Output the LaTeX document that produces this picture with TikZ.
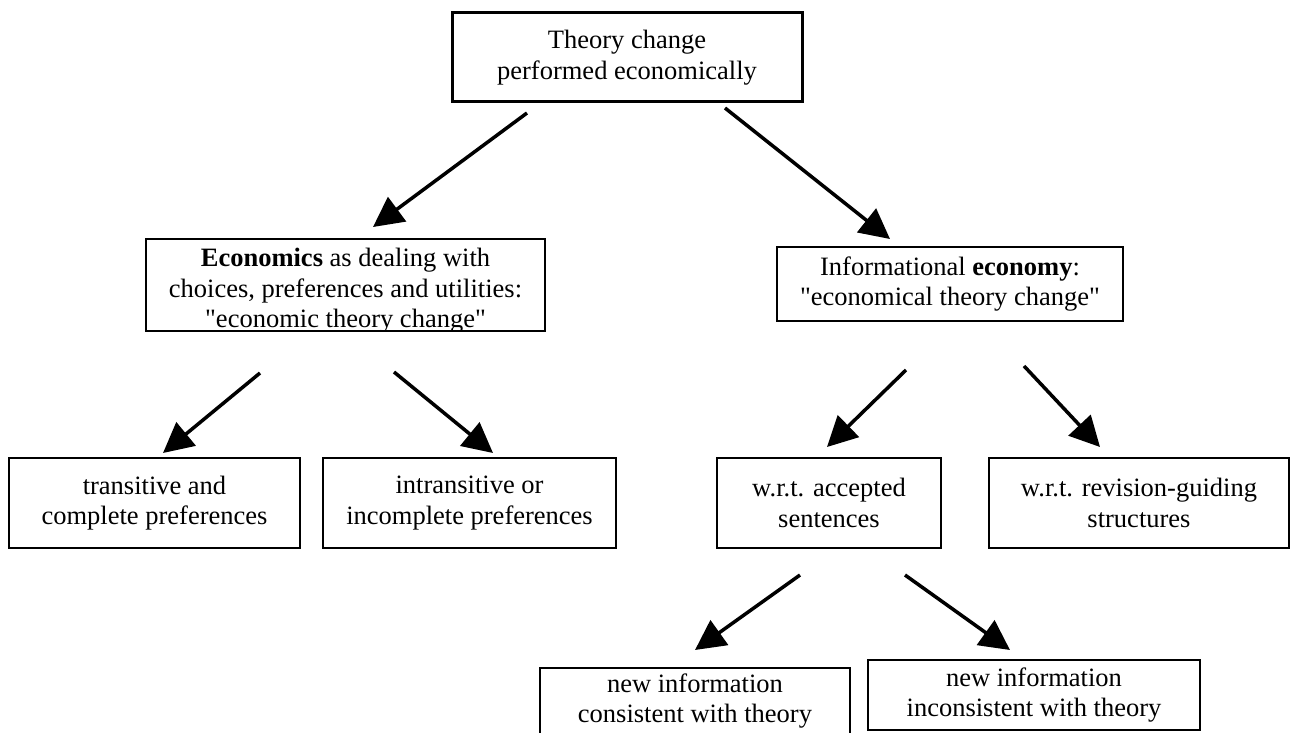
\documentclass[tikz,border=0pt]{standalone}
\usepackage{fontspec}
\setmainfont{Liberation Serif}[Ligatures=TeXOff]
\usetikzlibrary{arrows.meta}
\begin{document}
\begin{tikzpicture}[x=0.5pt,y=-0.5pt,
  frame/.style={draw=black, line width=0.75pt, inner sep=0pt, align=center,
    font=\fontsize{13.25pt}{15.25pt}\selectfont},
  txt/.style={inner sep=0pt, align=center, font=\fontsize{13.25pt}{15.25pt}\selectfont},
  arr/.style={line width=1.75pt, -{Triangle[length=15pt,width=15pt]}},
]
\useasboundingbox (0,0) rectangle (1296,733);
\clip (0,0) rectangle (1296,733);
\fill[white] (0,0) rectangle (1296,733);

% boxes
\node[frame, line width=1.5pt, minimum width=175pt, minimum height=44.5pt] (top) at (627,57.5)
  {Theory change\\performed economically};

\node[frame, minimum width=199.5pt, minimum height=46pt] (econ) at (345.5,285) {};
\begin{scope}
  \clip (146,239) rectangle (545,331);
  \node[txt, anchor=north] (econtext) at (345.5,248)
    {\textbf{Economics} as dealing with\\choices, preferences and utilities:\\"economic theory change"};
\end{scope}

\node[frame, minimum width=173pt, minimum height=37pt] (info) at (950,284)
  {Informational \textbf{economy}:\\"economical theory change"};

\node[frame, minimum width=145.5pt, minimum height=45pt] (trans) at (154.5,503)
  {transitive and\\complete preferences};
\node[frame, minimum width=146.5pt, minimum height=45pt] (intrans) at (469.5,503)
  {intransitive or\\incomplete preferences};
\node[frame, minimum width=112pt, minimum height=45pt] (accepted) at (829,503)
  {w.r.t. accepted\\sentences};
\node[frame, minimum width=150pt, minimum height=45pt] (revision) at (1139,503)
  {w.r.t. revision-guiding\\structures};

\node[frame, minimum width=155pt, minimum height=51pt] (consistent) at (695,719) {};
\node[txt, anchor=north] (consistenttext) at (695,673)
  {new information\\consistent with theory};
\node[frame, minimum width=166pt, minimum height=35pt] (inconsistent) at (1034,695)
  {new information\\inconsistent with theory};

% arrow end points
\coordinate (a1s) at (527,113);  \coordinate (a1e) at (373,227);
\coordinate (a2s) at (725,108);  \coordinate (a2e) at (890,239);
\coordinate (a3s) at (260,373);  \coordinate (a3e) at (163,453);
\coordinate (a4s) at (394,372);  \coordinate (a4e) at (493,453);
\coordinate (a5s) at (906,370);  \coordinate (a5e) at (827,447);
\coordinate (a6s) at (1024,366); \coordinate (a6e) at (1100,447);
\coordinate (a7s) at (800,575);  \coordinate (a7e) at (695,650);
\coordinate (a8s) at (905,575);  \coordinate (a8e) at (1010,650);

\draw[arr] (a1s) -- (a1e);
\draw[arr] (a2s) -- (a2e);
\draw[arr] (a3s) -- (a3e);
\draw[arr] (a4s) -- (a4e);
\draw[arr] (a5s) -- (a5e);
\draw[arr] (a6s) -- (a6e);
\draw[arr] (a7s) -- (a7e);
\draw[arr] (a8s) -- (a8e);
\end{tikzpicture}
\end{document}
